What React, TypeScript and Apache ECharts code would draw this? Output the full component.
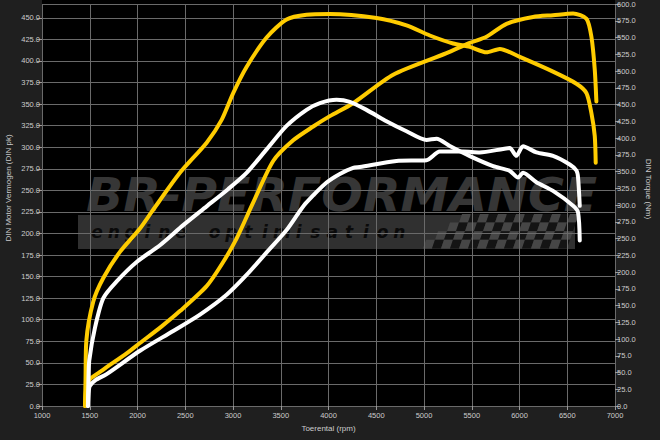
import React, { useEffect, useRef } from "react";
import * as echarts from "echarts";

// rpm range / ticks
const rpmMin = 1000;
const rpmMax = 7000;
const rpmStep = 500;

// Tuned (yellow) power, DIN pk  [rpm, pk]
const tunedPower: [number, number][] = [
  [1452, 0], [1458, 14], [1468, 24], [1500, 31], [1600, 39], [1677, 45], [1886, 61], [2026, 73],
  [2250, 92], [2444, 110], [2724, 139], [2881, 164], [3037, 194], [3212, 236], [3421, 284],
  [3630, 308], [3840, 324], [4014, 336], [4258, 351], [4677, 384], [5236, 409], [5480, 421],
  [5654, 428], [5864, 443], [6142, 451], [6351, 453], [6561, 455], [6701, 449], [6753, 428],
  [6788, 390], [6805, 353],
];

// Tuned (yellow) torque, Nm
const tunedTorque: [number, number][] = [
  [1450, 0], [1456, 40], [1464, 97], [1537, 156], [1642, 191], [1816, 230], [2026, 265],
  [2150, 290], [2444, 348], [2724, 393], [2881, 427], [3002, 467], [3142, 506], [3352, 550],
  [3561, 577], [3770, 584], [4014, 585], [4503, 579], [4817, 568], [5061, 553], [5305, 541],
  [5480, 536], [5654, 528], [5794, 533], [6003, 521], [6351, 499], [6596, 481], [6701, 467],
  [6753, 437], [6788, 403], [6798, 363],
];

// Stock (white) power, DIN pk
const stockPower: [number, number][] = [
  [1481, 0], [1487, 14], [1500, 23], [1560, 30], [1677, 37], [2026, 64], [2374, 87],
  [2654, 106], [2933, 129], [3142, 152], [3352, 178], [3561, 204], [3700, 226], [3770, 236],
  [3980, 259], [4119, 269], [4258, 276], [4328, 277], [4712, 284], [5026, 285], [5165, 295],
  [5409, 295], [5584, 294], [5828, 298], [5898, 299], [5968, 290], [6037, 301], [6177, 294],
  [6351, 290], [6526, 280], [6596, 273], [6613, 265], [6631, 232],
];

// Stock (white) torque, Nm
const stockTorque: [number, number][] = [
  [1481, 0], [1486, 38], [1495, 68], [1555, 117], [1642, 161], [1782, 186], [1991, 215],
  [2235, 240], [2479, 270], [2724, 298], [2951, 324], [3142, 348], [3352, 383], [3561, 418],
  [3770, 442], [3910, 452], [4084, 457], [4223, 454], [4398, 442], [4607, 425], [4817, 410],
  [5026, 397], [5131, 399], [5270, 388], [5480, 373], [5724, 358], [5898, 351], [5985, 341],
  [6037, 348], [6177, 334], [6351, 321], [6561, 299], [6613, 289], [6631, 247],
];

const powerAxisMax = 466;
const torqueAxisMax = 600;
const axisStep = 25;

const YELLOW = "#ffcc00";
const WHITE = "#ffffff";
const FONT = "'Liberation Sans', Arial, sans-serif";

function buildWatermark() {
  const els: any[] = [];
  // plot background
  els.push({ type: "rect", z: -20, shape: { x: 42, y: 0, width: 573, height: 406 }, style: { fill: "#000" } });
  // logo band
  els.push({ type: "rect", z: -15, shape: { x: 78, y: 215, width: 497, height: 34 }, style: { fill: "#303030" } });
  // checkered flag
  const cw = 9, ch = 8.6;
  for (let r = 0; r < 4; r++) {
    for (let c = 0; c < 16; c++) {
      const x0 = 432 + c * cw - r * 3;
      const y0 = 214 + r * ch;
      if (c < 3 - r) continue;
      const fill = (r + c) % 2 === 0 ? "#141414" : "#464646";
      els.push({
        type: "polygon", z: -14,
        shape: { points: [[x0 + 3, y0], [x0 + cw + 3, y0], [x0 + cw, y0 + ch], [x0, y0 + ch]] },
        style: { fill },
      });
    }
  }
  els.push({
    type: "text", z: -13, x: 86, y: 195, scaleX: 1.04,
    style: {
      text: "BR-PERFORMANCE", fill: "#363636", font: "italic 900 47px 'DejaVu Sans', sans-serif",
      align: "left", verticalAlign: "middle",
    },
  });
  const sub = "engine optimisation";
  for (let i = 0; i < sub.length; i++) {
    if (sub[i] === " ") continue;
    els.push({
      type: "text", z: -13, x: 97 + i * 16.8, y: 232,
      style: { text: sub[i], fill: "#0a0a0a", font: "italic bold 17px 'DejaVu Sans', sans-serif", align: "center", verticalAlign: "middle" },
    });
  }
  // axis names
  els.push({
    type: "text", x: 8, y: 188, rotation: Math.PI / 2,
    style: { text: "DIN Motor Vermogen (DIN pk)", fill: "#cccccc", font: `8px ${FONT}`, align: "center", verticalAlign: "middle" },
  });
  els.push({
    type: "text", x: 648, y: 189, rotation: -Math.PI / 2,
    style: { text: "DIN Torque (Nm)", fill: "#cccccc", font: `8px ${FONT}`, align: "center", verticalAlign: "middle" },
  });
  return els;
}

export default function App() {
  const ref = useRef<HTMLDivElement>(null);
  useEffect(() => {
    const chart = echarts.init(ref.current!, null, { renderer: "svg" });
    const labelStyle = { color: "#cccccc", fontSize: 7.5, fontFamily: FONT };
    const lineSeries = (name: string, data: [number, number][], color: string, yAxisIndex: number) => ({
      name, type: "line", data, yAxisIndex, showSymbol: false, smooth: 0.25,
      lineStyle: { color, width: 4, cap: "round", join: "round" }, itemStyle: { color }, z: 3,
    });
    const option: any = {
      animation: false,
      backgroundColor: "#1f1f1f",
      graphic: { elements: buildWatermark() },
      grid: { left: 42, right: 45, top: 0, bottom: 34, show: false },
      xAxis: {
        type: "value", min: rpmMin, max: rpmMax, interval: rpmStep,
        name: "Toerental (rpm)", nameLocation: "middle", nameGap: 18,
        nameTextStyle: { color: "#cccccc", fontSize: 8, fontFamily: FONT },
        axisLine: { show: false },
        axisTick: { show: true, length: 4, lineStyle: { color: "#999" } },
        axisLabel: { ...labelStyle, margin: 5, formatter: (v: number) => String(v) },
        splitLine: { show: true, lineStyle: { color: "#6a6a6a", width: 1 } },
      },
      yAxis: [
        {
          type: "value", position: "left", min: 0, max: powerAxisMax, interval: axisStep,
          axisLine: { show: false },
          axisTick: { show: true, length: 5, lineStyle: { color: "#999" } },
          axisLabel: { ...labelStyle, margin: 2, showMaxLabel: false, formatter: (v: number) => v.toFixed(1) },
          splitLine: { show: true, lineStyle: { color: "#6a6a6a", width: 1 } },
        },
        {
          type: "value", position: "right", min: 0, max: torqueAxisMax, interval: axisStep,
          axisLine: { show: false },
          axisTick: { show: true, length: 5, lineStyle: { color: "#999" } },
          axisLabel: { ...labelStyle, margin: 2, formatter: (v: number) => v.toFixed(1) },
          splitLine: { show: false },
        },
      ],
      series: [
        lineSeries("Tuned power", tunedPower, YELLOW, 0),
        lineSeries("Tuned torque", tunedTorque, YELLOW, 1),
        lineSeries("Stock power", stockPower, WHITE, 0),
        lineSeries("Stock torque", stockTorque, WHITE, 1),
      ],
    };
    chart.setOption(option);
    return () => chart.dispose();
  }, []);
  return <div ref={ref} style={{ position: "fixed", left: 0, top: 0, width: 660, height: 440 }} />;
}
